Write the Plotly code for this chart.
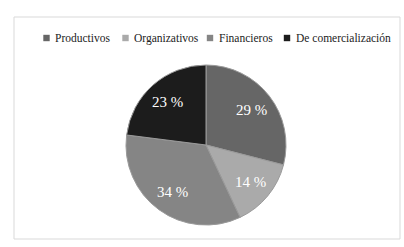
import math
import plotly.graph_objects as go

categories = ["Productivos", "Organizativos", "Financieros", "De comercialización"]
values = [29, 14, 34, 23]
slice_text = ["29 %", "14 %", "34 %", "23 %"]
colors = ["#666666", "#aaaaaa", "#858585", "#1c1c1c"]

W, H = 404, 247
# pie geometry (pixels)
CX, CY, R = 206, 145, 80
dx0 = (CX - R) / W
dx1 = (CX + R) / W
dy0 = 1 - (CY + R) / H
dy1 = 1 - (CY - R) / H

fig = go.Figure(go.Pie(
    labels=categories,
    values=values,
    textinfo="none",
    sort=False,
    direction="clockwise",
    rotation=0,
    marker=dict(colors=colors, line=dict(color="#9a9a9a", width=1)),
    domain=dict(x=[dx0, dx1], y=[dy0, dy1]),
    showlegend=False,
    hoverinfo="label+percent",
))

annotations = []
# slice labels, placed from the data values (mid-angle of each slice)
total = sum(values)
cum = 0
for v, t in zip(values, slice_text):
    mid = (cum + v / 2) / total * 2 * math.pi
    cum += v
    px = CX + 0.72 * R * math.sin(mid)
    py = CY - 0.72 * R * math.cos(mid)
    annotations.append(dict(
        x=px / W, y=1 - py / H, xref="paper", yref="paper",
        text=t, showarrow=False, xanchor="center", yanchor="middle",
        font=dict(family="Liberation Serif", size=15, color="white"),
    ))

# legend row
leg_sq_x = [46.5, 125.5, 210, 287]
shapes = [dict(
    type="rect", xref="paper", yref="paper",
    x0=14 / W, x1=400 / W, y0=1 - 239 / H, y1=1 - 17 / H,
    line=dict(color="#d9d9d9", width=1),
    fillcolor="rgba(0,0,0,0)",
)]
LY = 38
for sx, name, c in zip(leg_sq_x, categories, colors):
    shapes.append(dict(
        type="rect", xref="paper", yref="paper",
        x0=(sx - 3.2) / W, x1=(sx + 3.2) / W,
        y0=1 - (LY + 3.2) / H, y1=1 - (LY - 3.2) / H,
        line=dict(width=0), fillcolor=c,
    ))
    annotations.append(dict(
        x=(sx + 6.5) / W, y=1 - LY / H, xref="paper", yref="paper",
        text=name, showarrow=False, xanchor="left", yanchor="middle",
        font=dict(family="Liberation Serif", size=11.5, color="#222222"),
    ))

fig.update_layout(
    width=W, height=H,
    margin=dict(l=0, r=0, t=0, b=0),
    paper_bgcolor="white",
    plot_bgcolor="white",
    font=dict(family="Liberation Serif", size=12, color="#222222"),
    shapes=shapes,
    annotations=annotations,
)

fig.write_html(
    "out.html",
    config={"displayModeBar": False},
    post_script="document.body.style.margin='0';document.body.style.overflow='hidden';",
)
